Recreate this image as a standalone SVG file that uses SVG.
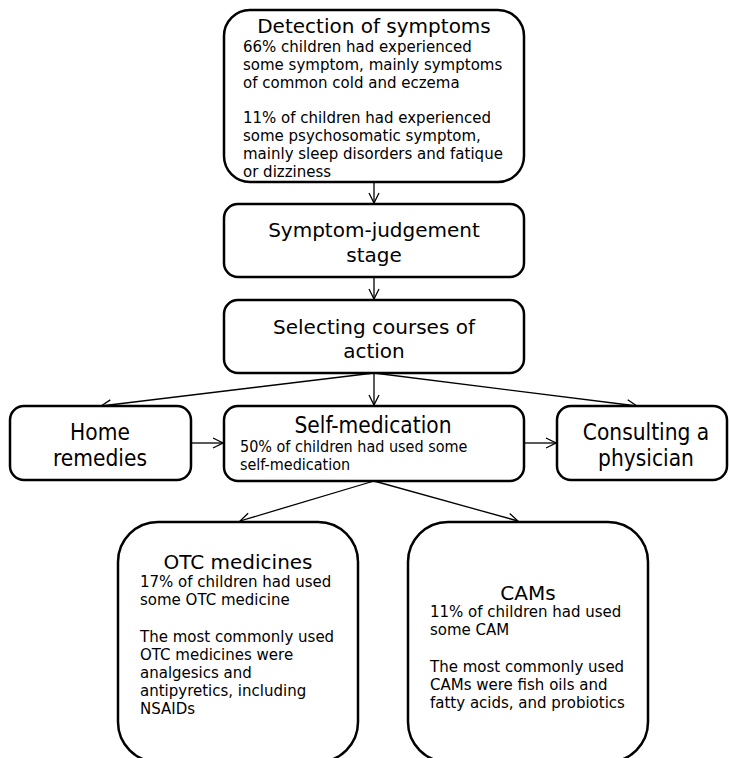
<svg xmlns="http://www.w3.org/2000/svg" width="730" height="758" viewBox="0 0 730 758">
<defs>
<marker id="arr" viewBox="0 0 12 12" refX="11" refY="6" markerWidth="12" markerHeight="12" markerUnits="userSpaceOnUse" orient="auto">
<path d="M1,1 L11,6 L1,11" fill="none" stroke="#000" stroke-width="1.3"/>
</marker>
<style>
.box{fill:#fff;stroke:#000;stroke-width:2.5}
.t{font-family:"DejaVu Sans","Verdana",sans-serif;font-size:20px;fill:#000;text-anchor:middle}
.b{font-family:"DejaVu Sans","Verdana",sans-serif;font-size:15px;fill:#000}
.c{font-family:"DejaVu Sans","Verdana",sans-serif;font-stretch:condensed;fill:#000}
.ln{fill:none;stroke:#000;stroke-width:1.3;marker-end:url(#arr)}
</style>
</defs>
<rect width="730" height="758" fill="#fff"/>
<g id="connectors">
<line class="ln" x1="374" y1="182" x2="374" y2="203"/>
<line class="ln" x1="374" y1="277" x2="374" y2="299"/>
<line class="ln" x1="374" y1="373" x2="101" y2="406"/>
<line class="ln" x1="374" y1="373" x2="374" y2="405"/>
<line class="ln" x1="374" y1="373" x2="637" y2="406"/>
<line class="ln" x1="191" y1="443" x2="223" y2="443"/>
<line class="ln" x1="524" y1="443" x2="556" y2="443"/>
<line class="ln" x1="374" y1="481" x2="240" y2="521"/>
<line class="ln" x1="374" y1="481" x2="518" y2="521"/>
</g>
<g id="detection">
<rect class="box" x="224" y="10" width="300" height="172" rx="26"/>
<text class="t" x="374" y="33">Detection of symptoms</text>
<text class="b" x="243" y="52">66% children had experienced</text>
<text class="b" x="243" y="70">some symptom, mainly symptoms</text>
<text class="b" x="243" y="88">of common cold and eczema</text>
<text class="b" x="243" y="123">11% of children had experienced</text>
<text class="b" x="243" y="141">some psychosomatic symptom,</text>
<text class="b" x="243" y="159">mainly sleep disorders and fatique</text>
<text class="b" x="243" y="177">or dizziness</text>
</g>
<g id="judgement">
<rect class="box" x="224" y="204" width="300" height="73" rx="14"/>
<text class="t" x="374" y="237" font-size="20.5">Symptom-judgement</text>
<text class="t" x="374" y="262" font-size="20.5">stage</text>
</g>
<g id="selecting">
<rect class="box" x="224" y="300" width="300" height="73" rx="14"/>
<text class="t" x="374" y="334" font-size="20.5">Selecting courses of</text>
<text class="t" x="374" y="358" font-size="20.5">action</text>
</g>
<g id="home">
<rect class="box" x="10" y="406" width="181" height="74" rx="14"/>
<text class="c" x="100" y="440" font-size="22.5" text-anchor="middle">Home</text>
<text class="c" x="100" y="466" font-size="22.5" text-anchor="middle">remedies</text>
</g>
<g id="selfmed">
<rect class="box" x="224" y="406" width="300" height="75" rx="14"/>
<text class="c" x="373" y="433" font-size="22.5" text-anchor="middle">Self-medication</text>
<text class="c" x="240" y="452" font-size="16">50% of children had used some</text>
<text class="c" x="240" y="470" font-size="16">self-medication</text>
</g>
<g id="consulting">
<rect class="box" x="557" y="406" width="170" height="74" rx="14"/>
<text class="c" x="646" y="440" font-size="22.5" text-anchor="middle">Consulting a</text>
<text class="c" x="646" y="466" font-size="22.5" text-anchor="middle">physician</text>
</g>
<g id="otc">
<rect class="box" x="118" y="522" width="240" height="240" rx="40"/>
<text class="t" x="238" y="569">OTC medicines</text>
<text class="b" x="140" y="587">17% of children had used</text>
<text class="b" x="140" y="605">some OTC medicine</text>
<text class="b" x="140" y="642">The most commonly used</text>
<text class="b" x="140" y="660">OTC medicines were</text>
<text class="b" x="140" y="678">analgesics and</text>
<text class="b" x="140" y="696">antipyretics, including</text>
<text class="b" x="140" y="714">NSAIDs</text>
</g>
<g id="cams">
<rect class="box" x="408" y="522" width="240" height="240" rx="40"/>
<text class="t" x="528" y="600">CAMs</text>
<text class="b" x="430" y="617">11% of children had used</text>
<text class="b" x="430" y="635">some CAM</text>
<text class="b" x="430" y="672">The most commonly used</text>
<text class="b" x="430" y="690">CAMs were fish oils and</text>
<text class="b" x="430" y="708">fatty acids, and probiotics</text>
</g>
</svg>
